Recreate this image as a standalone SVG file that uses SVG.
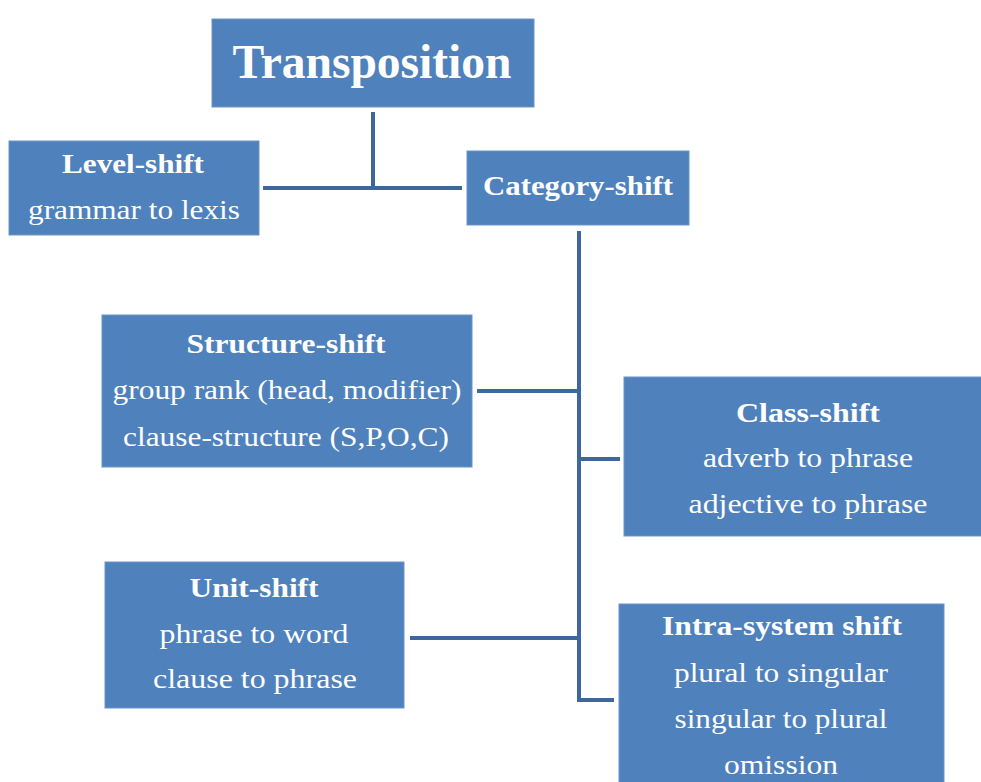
<svg xmlns="http://www.w3.org/2000/svg" width="981" height="782" viewBox="0 0 981 782">
<style>
.box{fill:#4f81bd;stroke:#6b93c6;stroke-width:1}
.t{font-family:"Liberation Serif","Times New Roman",serif;fill:#ffffff;text-anchor:middle;font-size:28px}
.b{font-weight:bold}
.ttl{font-weight:bold;font-size:48px}
.c{stroke:#3e679b;stroke-width:4;fill:none}
</style>
<rect width="981" height="782" fill="#ffffff"/>
<g id="connectors">
<line class="c" x1="373" y1="112" x2="373" y2="190"/>
<line class="c" x1="263" y1="188" x2="462" y2="188"/>
<polyline class="c" points="579,231 579,700 614,700"/>
<line class="c" x1="477" y1="391" x2="579" y2="391"/>
<line class="c" x1="579" y1="459" x2="620" y2="459"/>
<line class="c" x1="410" y1="638" x2="579" y2="638"/>
</g>
<g id="transposition">
<rect class="box" x="212" y="19" width="322" height="88"/>
<text class="t ttl" x="372" y="78" textLength="279" lengthAdjust="spacingAndGlyphs">Transposition</text>
</g>
<g id="level-shift">
<rect class="box" x="9" y="141" width="250" height="94"/>
<text class="t b" x="133" y="173" textLength="142" lengthAdjust="spacingAndGlyphs">Level-shift</text>
<text class="t" x="134" y="219" textLength="212" lengthAdjust="spacingAndGlyphs">grammar to lexis</text>
</g>
<g id="category-shift">
<rect class="box" x="467" y="151" width="222" height="74"/>
<text class="t b" x="578" y="195" textLength="190" lengthAdjust="spacingAndGlyphs">Category-shift</text>
</g>
<g id="structure-shift">
<rect class="box" x="102" y="315" width="370" height="152"/>
<text class="t b" x="286" y="353" textLength="199" lengthAdjust="spacingAndGlyphs">Structure-shift</text>
<text class="t" x="287" y="399" textLength="349" lengthAdjust="spacingAndGlyphs">group rank (head, modifier)</text>
<text class="t" x="286" y="446" textLength="326" lengthAdjust="spacingAndGlyphs">clause-structure (S,P,O,C)</text>
</g>
<g id="class-shift">
<rect class="box" x="624" y="377" width="360" height="159"/>
<text class="t b" x="808" y="422" textLength="144" lengthAdjust="spacingAndGlyphs">Class-shift</text>
<text class="t" x="808" y="467" textLength="210" lengthAdjust="spacingAndGlyphs">adverb to phrase</text>
<text class="t" x="808" y="513" textLength="239" lengthAdjust="spacingAndGlyphs">adjective to phrase</text>
</g>
<g id="unit-shift">
<rect class="box" x="105" y="562" width="299" height="146"/>
<text class="t b" x="254" y="597" textLength="129" lengthAdjust="spacingAndGlyphs">Unit-shift</text>
<text class="t" x="254" y="643" textLength="189" lengthAdjust="spacingAndGlyphs">phrase to word</text>
<text class="t" x="255" y="688" textLength="204" lengthAdjust="spacingAndGlyphs">clause to phrase</text>
</g>
<g id="intra-system-shift">
<rect class="box" x="619" y="604" width="325" height="190"/>
<text class="t b" x="782" y="635" textLength="240" lengthAdjust="spacingAndGlyphs">Intra-system shift</text>
<text class="t" x="781" y="682" textLength="214" lengthAdjust="spacingAndGlyphs">plural to singular</text>
<text class="t" x="781" y="728" textLength="213" lengthAdjust="spacingAndGlyphs">singular to plural</text>
<text class="t" x="781" y="774" textLength="114" lengthAdjust="spacingAndGlyphs">omission</text>
</g>
</svg>
